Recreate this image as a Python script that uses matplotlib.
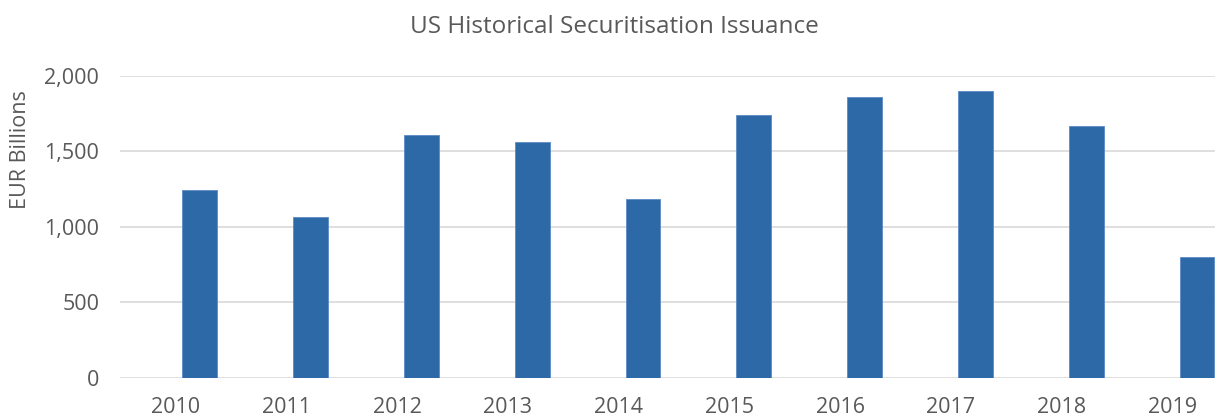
import matplotlib
matplotlib.use("Agg")
import matplotlib.pyplot as plt
import numpy as np

years = ["2010", "2011", "2012", "2013", "2014", "2015", "2016", "2017", "2018", "2019"]
issuance = [1244, 1065, 1608, 1561, 1184, 1740, 1859, 1899, 1667, 800]

TEXT = "#595959"
plt.rcParams["font.family"] = ["Open Sans", "DejaVu Sans"]

fig = plt.figure(figsize=(12.15, 4.18), dpi=100)
ax = fig.add_axes([120 / 1215, 40 / 418, 1108 / 1215, 302.3 / 418])

x = np.arange(len(years))
# bars sit right of the category centre (as in the original Excel chart)
ax.bar(x + 0.22, issuance, width=0.315, color="#2e69a7", edgecolor="#5b8bc4",
       linewidth=0.6, zorder=3)

ax.set_xlim(-0.5, len(years) - 0.5)
ax.set_ylim(0, 2000)
ax.set_yticks(range(0, 2001, 500))
ax.yaxis.set_major_formatter(matplotlib.ticker.FuncFormatter(lambda v, p: f"{v:,.0f}"))
ax.set_xticks(x)
ax.set_xticklabels(years)
ax.grid(axis="y", color="#d9d9d9", linewidth=1.2, zorder=0)
for s in ax.spines.values():
  s.set_visible(False)
ax.tick_params(length=0, labelsize=15.5, colors=TEXT)
ax.tick_params(axis="y", pad=15)
ax.tick_params(axis="x", pad=14)
ax.set_ylabel("EUR Billions", fontsize=15.5, color=TEXT)
# label sits high on the axis, like the original
ax.yaxis.set_label_coords(-0.08, 0.757)
fig.text(614 / 1215, 1 - 27 / 418, "US Historical Securitisation Issuance",
         ha="center", va="center", fontsize=17.5, color=TEXT)

fig.savefig("out.png", dpi=100)
